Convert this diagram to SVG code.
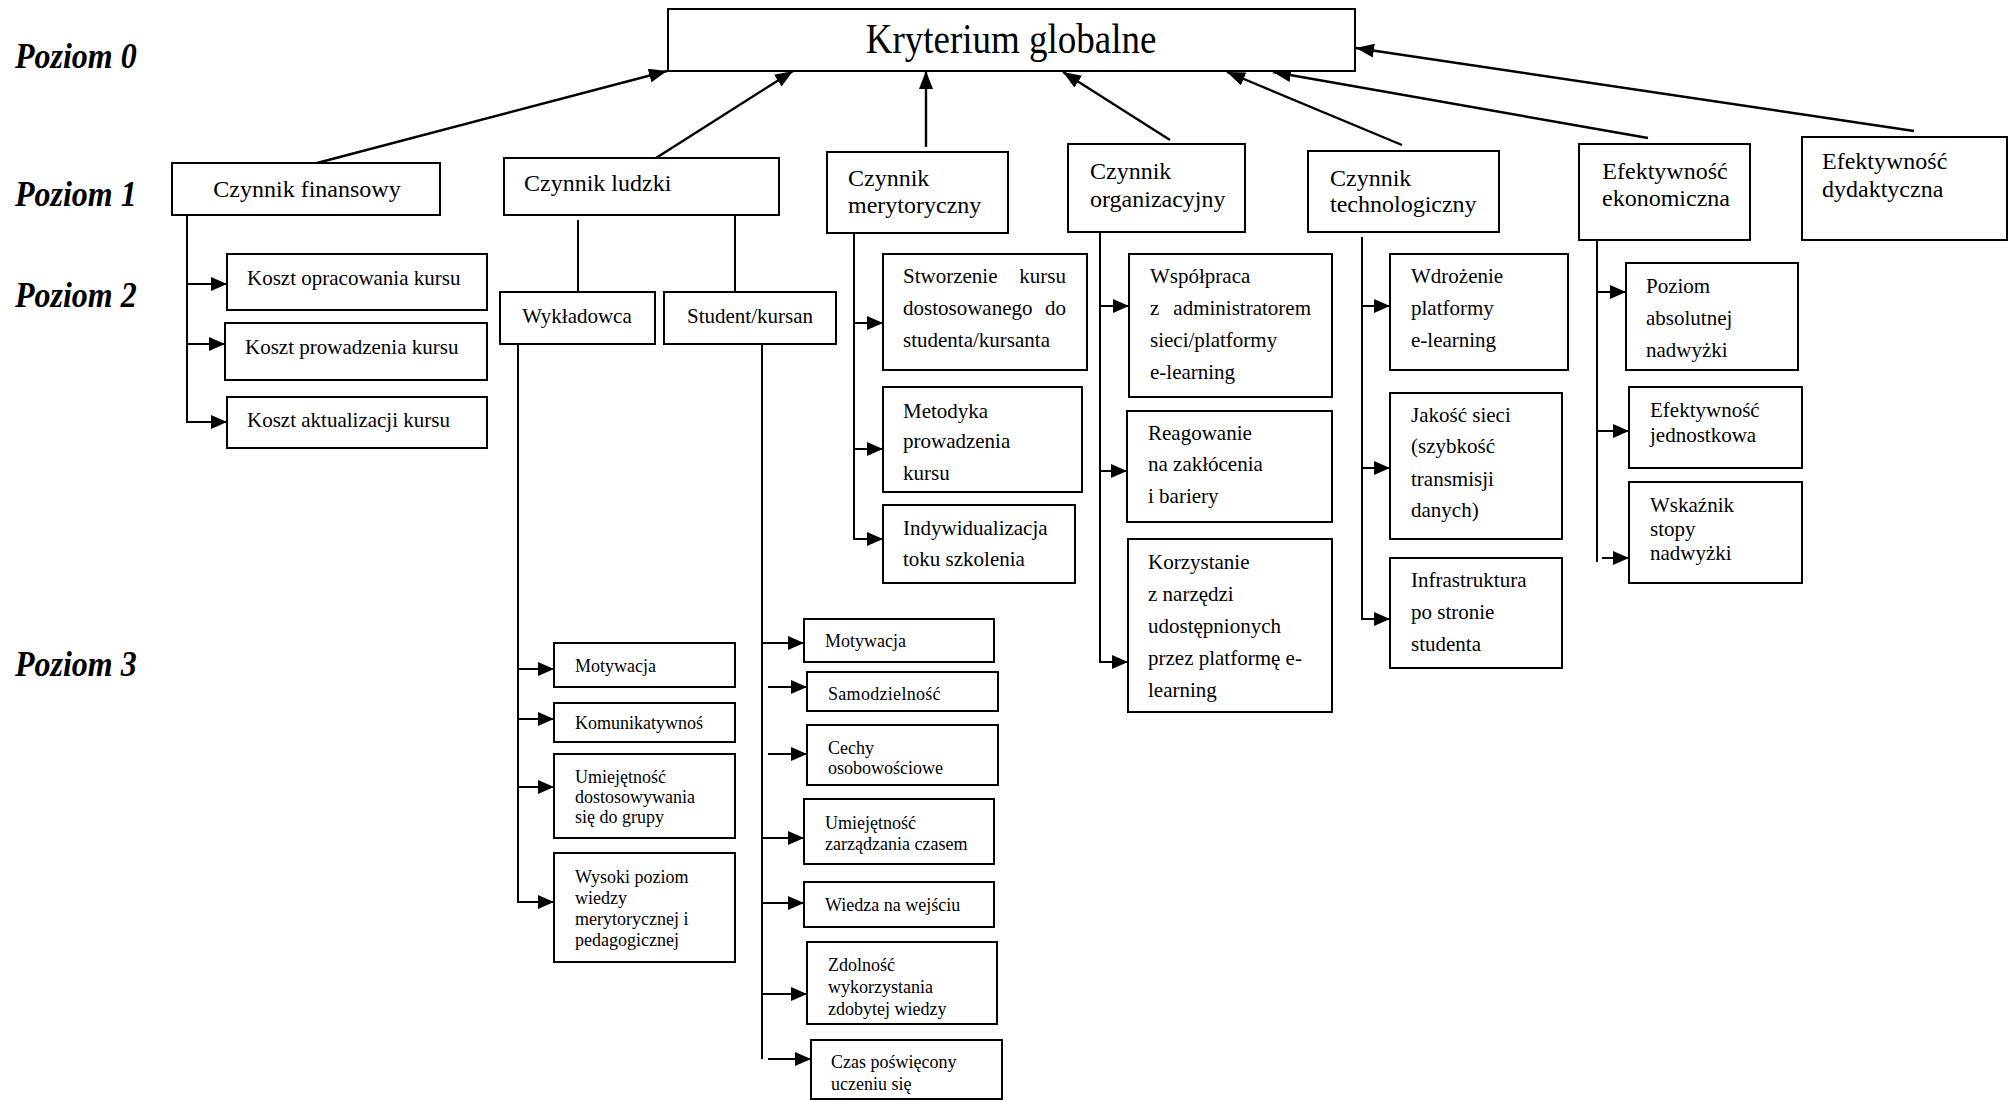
<svg xmlns="http://www.w3.org/2000/svg" width="2016" height="1101" viewBox="0 0 2016 1101">
<style>
.b{fill:#fff;stroke:#000;stroke-width:2}
.t{font-family:"Liberation Serif","Times New Roman",serif;fill:#000}
.lv{font-family:"Liberation Serif","Times New Roman",serif;font-weight:bold;font-style:italic;font-size:32px;fill:#000}
.f24{font-size:24px}
.f21{font-size:21px}
.f18{font-size:18px}
.c{stroke:#000;stroke-width:2;fill:none}
.ct{stroke:#000;stroke-width:2.4;fill:none}
</style>
<defs>
<marker id="ah" markerUnits="userSpaceOnUse" markerWidth="16" markerHeight="14" refX="16" refY="7" orient="auto"><path d="M0,0 L16,7 L0,14 z" fill="#000"/></marker>
<marker id="ahL" markerUnits="userSpaceOnUse" markerWidth="18" markerHeight="14" refX="18" refY="7" orient="auto"><path d="M0,0 L18,7 L0,14 z" fill="#000"/></marker>
</defs>
<rect x="0" y="0" width="2016" height="1101" fill="#fff"/>

<g id="levels">
<text class="lv" transform="translate(15,68) scale(1,1.1)">Poziom 0</text>
<text class="lv" transform="translate(15,206) scale(1,1.1)">Poziom 1</text>
<text class="lv" transform="translate(15,307) scale(1,1.1)">Poziom 2</text>
<text class="lv" transform="translate(15,676) scale(1,1.1)">Poziom 3</text>
</g>

<g id="connectors">
<line class="ct" x1="317" y1="163" x2="667" y2="71" marker-end="url(#ahL)"/>
<line class="ct" x1="656" y1="158" x2="793" y2="71" marker-end="url(#ahL)"/>
<line class="ct" x1="926" y1="147" x2="926" y2="71" marker-end="url(#ahL)"/>
<line class="ct" x1="1170" y1="140" x2="1063" y2="72" marker-end="url(#ahL)"/>
<line class="ct" x1="1402" y1="145" x2="1227" y2="72" marker-end="url(#ahL)"/>
<line class="ct" x1="1648" y1="138" x2="1273" y2="72" marker-end="url(#ahL)"/>
<line class="ct" x1="1914" y1="131" x2="1356" y2="48" marker-end="url(#ahL)"/>

<polyline class="c" points="187,215 187,422 227,422" marker-end="url(#ah)"/>
<line class="c" x1="187" y1="284" x2="227" y2="284" marker-end="url(#ah)"/>
<line class="c" x1="187" y1="344" x2="225" y2="344" marker-end="url(#ah)"/>

<line class="c" x1="578" y1="220" x2="578" y2="292"/>
<line class="c" x1="735" y1="215" x2="735" y2="292"/>

<polyline class="c" points="518,344 518,902 554,902" marker-end="url(#ah)"/>
<line class="c" x1="518" y1="669" x2="554" y2="669" marker-end="url(#ah)"/>
<line class="c" x1="518" y1="719" x2="554" y2="719" marker-end="url(#ah)"/>
<line class="c" x1="518" y1="787" x2="554" y2="787" marker-end="url(#ah)"/>

<line class="c" x1="762" y1="344" x2="762" y2="1059"/>
<line class="c" x1="762" y1="643" x2="804" y2="643" marker-end="url(#ah)"/>
<line class="c" x1="768" y1="687" x2="807" y2="687" marker-end="url(#ah)"/>
<line class="c" x1="768" y1="754" x2="807" y2="754" marker-end="url(#ah)"/>
<line class="c" x1="762" y1="838" x2="804" y2="838" marker-end="url(#ah)"/>
<line class="c" x1="762" y1="903" x2="804" y2="903" marker-end="url(#ah)"/>
<line class="c" x1="762" y1="994" x2="807" y2="994" marker-end="url(#ah)"/>
<line class="c" x1="768" y1="1059" x2="811" y2="1059" marker-end="url(#ah)"/>

<polyline class="c" points="854,233 854,539 883,539" marker-end="url(#ah)"/>
<line class="c" x1="854" y1="323" x2="883" y2="323" marker-end="url(#ah)"/>
<line class="c" x1="854" y1="449" x2="883" y2="449" marker-end="url(#ah)"/>

<polyline class="c" points="1100,232 1100,662 1128,662" marker-end="url(#ah)"/>
<line class="c" x1="1100" y1="306" x2="1129" y2="306" marker-end="url(#ah)"/>
<line class="c" x1="1100" y1="471" x2="1127" y2="471" marker-end="url(#ah)"/>

<polyline class="c" points="1362,237 1362,619 1390,619" marker-end="url(#ah)"/>
<line class="c" x1="1362" y1="306" x2="1390" y2="306" marker-end="url(#ah)"/>
<line class="c" x1="1362" y1="468" x2="1390" y2="468" marker-end="url(#ah)"/>

<line class="c" x1="1597" y1="240" x2="1597" y2="562"/>
<line class="c" x1="1597" y1="292" x2="1626" y2="292" marker-end="url(#ah)"/>
<line class="c" x1="1597" y1="431" x2="1629" y2="431" marker-end="url(#ah)"/>
<line class="c" x1="1602" y1="558" x2="1629" y2="558" marker-end="url(#ah)"/>
</g>

<g id="n-kryterium">
<rect class="b" x="668" y="9" width="687" height="62"/>
<text class="t" transform="translate(1011,53) scale(1,1.12)" font-size="37" text-anchor="middle">Kryterium globalne</text>
</g>

<g id="n-finansowy">
<rect class="b" x="172" y="163" width="268" height="52"/>
<text class="t f24" x="307" y="197" text-anchor="middle">Czynnik finansowy</text>
</g>
<g id="n-ludzki">
<rect class="b" x="504" y="158" width="275" height="57"/>
<text class="t f24" x="524" y="191">Czynnik ludzki</text>
</g>
<g id="n-merytoryczny">
<rect class="b" x="827" y="152" width="181" height="81"/>
<text class="t f24" x="848" y="186">Czynnik</text>
<text class="t f24" x="848" y="213">merytoryczny</text>
</g>
<g id="n-organizacyjny">
<rect class="b" x="1068" y="144" width="177" height="88"/>
<text class="t f24" x="1090" y="179">Czynnik</text>
<text class="t f24" x="1090" y="207">organizacyjny</text>
</g>
<g id="n-technologiczny">
<rect class="b" x="1308" y="151" width="191" height="81"/>
<text class="t f24" x="1330" y="186">Czynnik</text>
<text class="t f24" x="1330" y="212">technologiczny</text>
</g>
<g id="n-ekonomiczna">
<rect class="b" x="1579" y="144" width="171" height="96"/>
<text class="t f24" x="1665" y="179" text-anchor="middle">Efektywność</text>
<text class="t f24" x="1666" y="206" text-anchor="middle">ekonomiczna</text>
</g>
<g id="n-dydaktyczna">
<rect class="b" x="1802" y="137" width="205" height="103"/>
<text class="t f24" x="1822" y="169">Efektywność</text>
<text class="t f24" x="1822" y="197">dydaktyczna</text>
</g>

<g id="n-koszt-opracowania">
<rect class="b" x="227" y="254" width="260" height="56"/>
<text class="t f21" x="247" y="285">Koszt opracowania kursu</text>
</g>
<g id="n-koszt-prowadzenia">
<rect class="b" x="225" y="323" width="262" height="57"/>
<text class="t f21" x="245" y="354">Koszt prowadzenia kursu</text>
</g>
<g id="n-koszt-aktualizacji">
<rect class="b" x="227" y="397" width="260" height="51"/>
<text class="t f21" x="247" y="427">Koszt aktualizacji kursu</text>
</g>

<g id="n-wykladowca">
<rect class="b" x="500" y="292" width="155" height="52"/>
<text class="t f21" x="577" y="323" text-anchor="middle">Wykładowca</text>
</g>
<g id="n-student">
<rect class="b" x="664" y="292" width="172" height="52"/>
<text class="t f21" x="750" y="323" text-anchor="middle">Student/kursan</text>
</g>

<g id="n-w-motywacja">
<rect class="b" x="554" y="643" width="181" height="44"/>
<text class="t f18" x="575" y="672">Motywacja</text>
</g>
<g id="n-w-komunikatywnosc">
<rect class="b" x="554" y="703" width="181" height="39"/>
<text class="t f18" x="575" y="729">Komunikatywnoś</text>
</g>
<g id="n-w-umiejetnosc">
<rect class="b" x="554" y="754" width="181" height="84"/>
<text class="t f18" x="575" y="783">Umiejętność</text>
<text class="t f18" x="575" y="803">dostosowywania</text>
<text class="t f18" x="575" y="823">się do grupy</text>
</g>
<g id="n-w-wysoki">
<rect class="b" x="554" y="853" width="181" height="109"/>
<text class="t f18" x="575" y="883">Wysoki poziom</text>
<text class="t f18" x="575" y="904">wiedzy</text>
<text class="t f18" x="575" y="925">merytorycznej i</text>
<text class="t f18" x="575" y="946">pedagogicznej</text>
</g>

<g id="n-s-motywacja">
<rect class="b" x="804" y="619" width="190" height="43"/>
<text class="t f18" x="825" y="647">Motywacja</text>
</g>
<g id="n-s-samodzielnosc">
<rect class="b" x="807" y="672" width="191" height="39"/>
<text class="t f18" x="828" y="700" letter-spacing="0.3">Samodzielność</text>
</g>
<g id="n-s-cechy">
<rect class="b" x="807" y="725" width="191" height="60"/>
<text class="t f18" x="828" y="754">Cechy</text>
<text class="t f18" x="828" y="774">osobowościowe</text>
</g>
<g id="n-s-czas-zarzadzanie">
<rect class="b" x="804" y="799" width="190" height="65"/>
<text class="t f18" x="825" y="829">Umiejętność</text>
<text class="t f18" x="825" y="850">zarządzania czasem</text>
</g>
<g id="n-s-wiedza">
<rect class="b" x="804" y="882" width="190" height="45"/>
<text class="t f18" x="825" y="911">Wiedza na wejściu</text>
</g>
<g id="n-s-zdolnosc">
<rect class="b" x="807" y="942" width="190" height="82"/>
<text class="t f18" x="828" y="971">Zdolność</text>
<text class="t f18" x="828" y="993">wykorzystania</text>
<text class="t f18" x="828" y="1015">zdobytej wiedzy</text>
</g>
<g id="n-s-czas">
<rect class="b" x="811" y="1040" width="191" height="59"/>
<text class="t f18" x="831" y="1068">Czas poświęcony</text>
<text class="t f18" x="831" y="1090">uczeniu się</text>
</g>

<g id="n-stworzenie">
<rect class="b" x="883" y="254" width="204" height="116"/>
<text class="t f21" x="903" y="283">Stworzenie</text>
<text class="t f21" x="1066" y="283" text-anchor="end">kursu</text>
<text class="t f21" x="903" y="315">dostosowanego</text>
<text class="t f21" x="1066" y="315" text-anchor="end">do</text>
<text class="t f21" x="903" y="347">studenta/kursanta</text>
</g>
<g id="n-metodyka">
<rect class="b" x="883" y="387" width="199" height="105"/>
<text class="t f21" x="903" y="418">Metodyka</text>
<text class="t f21" x="903" y="448">prowadzenia</text>
<text class="t f21" x="903" y="480">kursu</text>
</g>
<g id="n-indywidualizacja">
<rect class="b" x="883" y="505" width="192" height="78"/>
<text class="t f21" x="903" y="535">Indywidualizacja</text>
<text class="t f21" x="903" y="566">toku szkolenia</text>
</g>

<g id="n-wspolpraca">
<rect class="b" x="1129" y="254" width="203" height="143"/>
<text class="t f21" x="1150" y="283">Współpraca</text>
<text class="t f21" x="1150" y="315">z</text>
<text class="t f21" x="1311" y="315" text-anchor="end">administratorem</text>
<text class="t f21" x="1150" y="347">sieci/platformy</text>
<text class="t f21" x="1150" y="379">e-learning</text>
</g>
<g id="n-reagowanie">
<rect class="b" x="1127" y="411" width="205" height="111"/>
<text class="t f21" x="1148" y="440">Reagowanie</text>
<text class="t f21" x="1148" y="471">na zakłócenia</text>
<text class="t f21" x="1148" y="503">i bariery</text>
</g>
<g id="n-korzystanie">
<rect class="b" x="1128" y="539" width="204" height="173"/>
<text class="t f21" x="1148" y="569">Korzystanie</text>
<text class="t f21" x="1148" y="601">z narzędzi</text>
<text class="t f21" x="1148" y="633">udostępnionych</text>
<text class="t f21" x="1148" y="665">przez platformę e-</text>
<text class="t f21" x="1148" y="697">learning</text>
</g>

<g id="n-wdrozenie">
<rect class="b" x="1390" y="254" width="178" height="116"/>
<text class="t f21" x="1411" y="283">Wdrożenie</text>
<text class="t f21" x="1411" y="315">platformy</text>
<text class="t f21" x="1411" y="347">e-learning</text>
</g>
<g id="n-jakosc">
<rect class="b" x="1390" y="393" width="172" height="146"/>
<text class="t f21" x="1411" y="422">Jakość sieci</text>
<text class="t f21" x="1411" y="453">(szybkość</text>
<text class="t f21" x="1411" y="486">transmisji</text>
<text class="t f21" x="1411" y="517">danych)</text>
</g>
<g id="n-infrastruktura">
<rect class="b" x="1390" y="558" width="172" height="110"/>
<text class="t f21" x="1411" y="587">Infrastruktura</text>
<text class="t f21" x="1411" y="619">po stronie</text>
<text class="t f21" x="1411" y="651">studenta</text>
</g>

<g id="n-poziom-nadwyzki">
<rect class="b" x="1626" y="263" width="172" height="107"/>
<text class="t f21" x="1646" y="293">Poziom</text>
<text class="t f21" x="1646" y="325">absolutnej</text>
<text class="t f21" x="1646" y="357">nadwyżki</text>
</g>
<g id="n-jednostkowa">
<rect class="b" x="1629" y="387" width="173" height="81"/>
<text class="t f21" x="1650" y="417">Efektywność</text>
<text class="t f21" x="1650" y="442">jednostkowa</text>
</g>
<g id="n-wskaznik">
<rect class="b" x="1629" y="482" width="173" height="101"/>
<text class="t f21" x="1650" y="512">Wskaźnik</text>
<text class="t f21" x="1650" y="536">stopy</text>
<text class="t f21" x="1650" y="560">nadwyżki</text>
</g>
</svg>
